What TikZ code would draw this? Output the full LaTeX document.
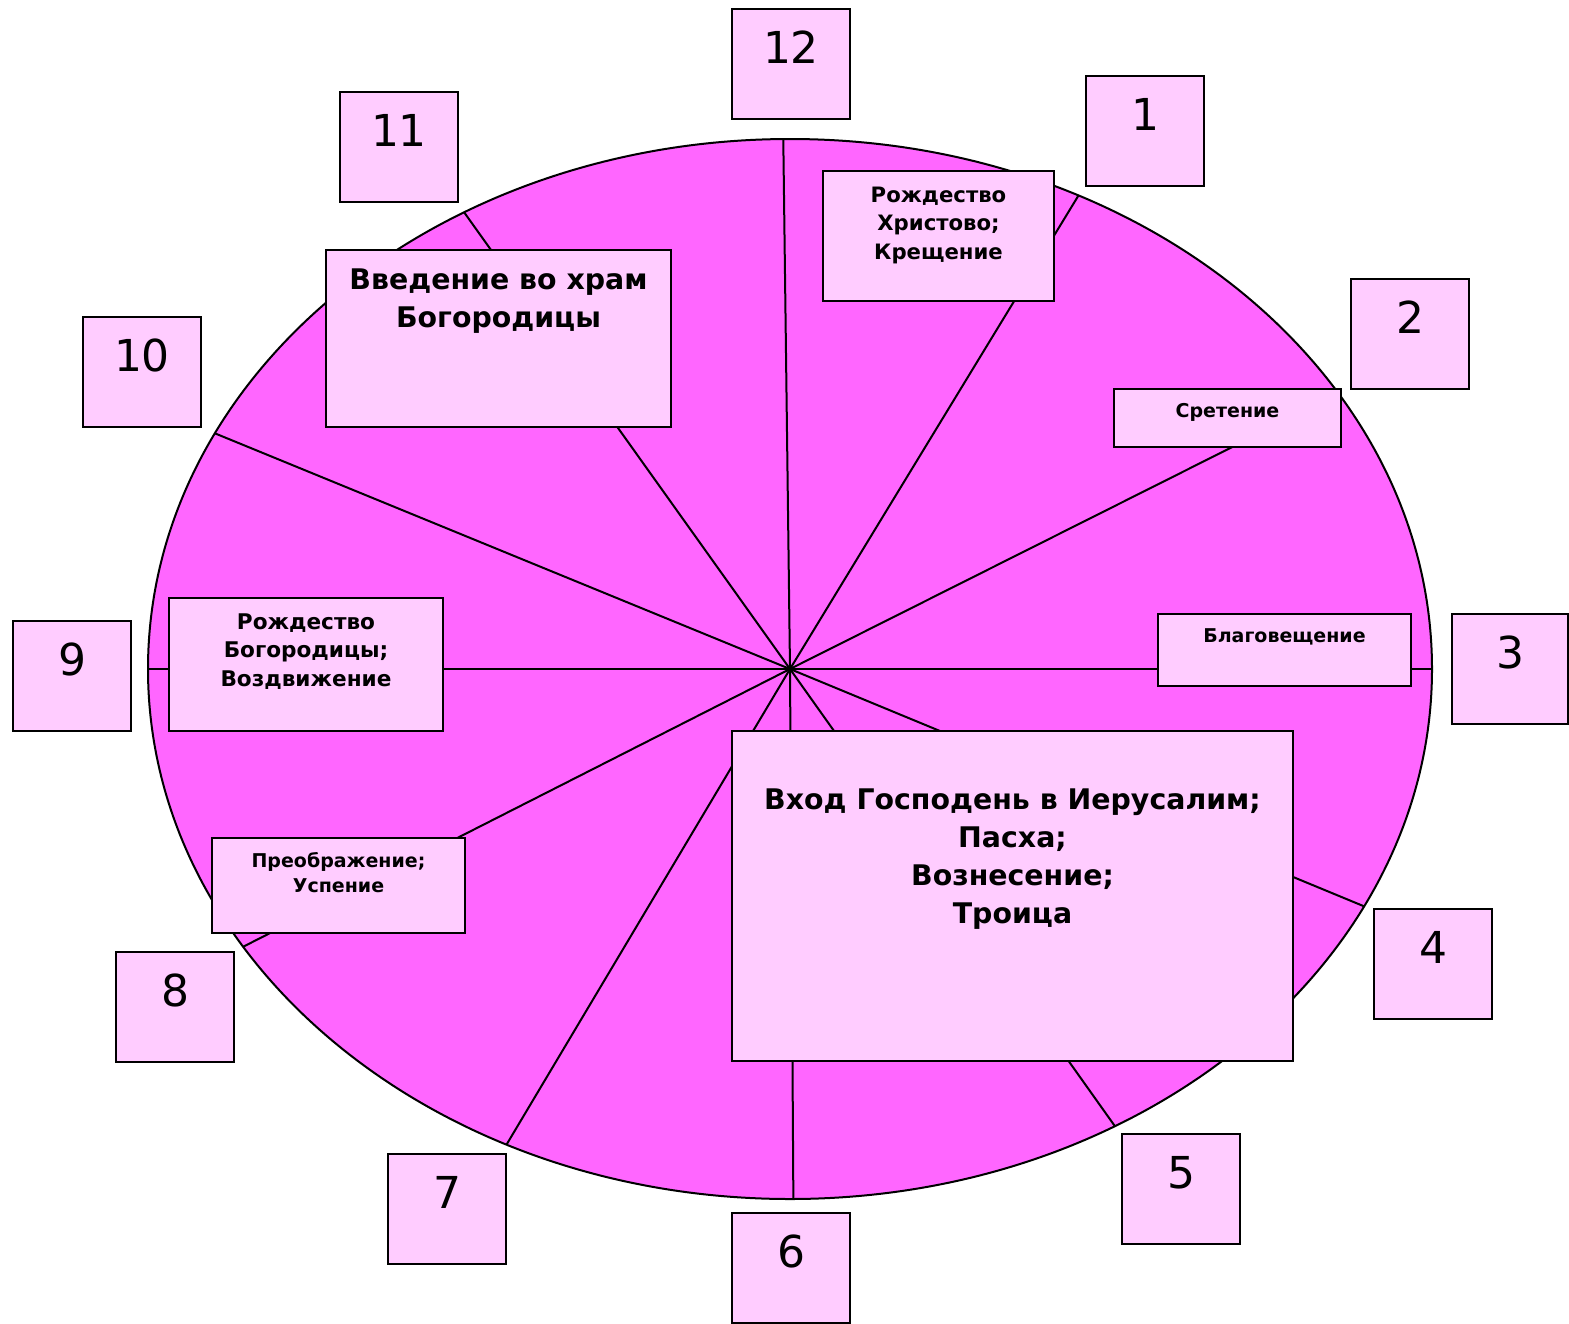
\documentclass[tikz,border=0pt]{standalone}
\usepackage{fontspec}
\setmainfont{DejaVu Sans}
\usepackage{tikz}
\usetikzlibrary{positioning}
\definecolor{ovale}{HTML}{FF66FF}
\definecolor{boite}{HTML}{FFCCFF}

\begin{document}
\begin{tikzpicture}[x=0.5pt,y=-0.5pt,
    numbox/.style={draw=black, line width=1pt, fill=boite, anchor=north west, inner sep=0pt,
      minimum width=59pt, text height=27pt, text depth=28pt, font=\fontsize{22}{26}\selectfont},
    fete/.style={draw=black, line width=1pt, fill=boite, anchor=north west, inner sep=0pt,
      align=center, font=\bfseries}]
        \useasboundingbox (0,0) rectangle (1569,1323);
        % Cercle de l'annee
        \coordinate (ctr) at (790,669);
        \draw[line width=1pt, fill=ovale] (ctr) ellipse [x radius=642, y radius=530];
        \foreach \a in {-90.6,-63.3,-31.3,0,26.6,59.6,89.7,116.2,148.4,180,206.4,239.5}
            \draw[line width=1pt] (ctr) -- ++(\a:642 and 530);

        % Mois
        \node[numbox] (m12) at (731,8) {12};
        \node[numbox] (m1) at (1085,75) {1};
        \node[numbox] (m2) at (1350,278) {2};
        \node[numbox, minimum width=58pt] (m3) at (1451,613) {3};
        \node[numbox] (m4) at (1373,908) {4};
        \node[numbox] (m5) at (1121,1133) {5};
        \node[numbox] (m6) at (731,1212) {6};
        \node[numbox] (m7) at (387,1153) {7};
        \node[numbox] (m8) at (115,951) {8};
        \node[numbox] (m9) at (12,620) {9};
        \node[numbox] (m10) at (82,316) {10};
        \node[numbox] (m11) at (339,91) {11};

        % Fetes
        \node[fete, minimum width=115.5pt, text height=44pt, text depth=21pt,
            font=\bfseries\fontsize{10.6}{14.25}\selectfont] (rozhd) at (822,170)
            {Рождество\\Христово;\\Крещение};
        \node[fete, minimum width=113.5pt, text height=14pt, text depth=15pt,
            font=\bfseries\fontsize{9.5}{12}\selectfont] (sret) at (1113,388) {Сретение};
        \node[fete, minimum width=126.5pt, text height=14pt, text depth=22pt,
            font=\bfseries\fontsize{9.5}{12}\selectfont] (blag) at (1157,613) {Благовещение};
        \node[fete, minimum width=280.5pt, text height=96pt, text depth=69pt,
            font=\bfseries\fontsize{14.2}{19}\selectfont] (pasha) at (731,730)
            {Вход Господень в Иерусалим;\\Пасха;\\Вознесение;\\Троица};
        \node[fete, minimum width=126.5pt, text height=27pt, text depth=20.5pt,
            font=\bfseries\fontsize{9.5}{12.5}\selectfont] (preobr) at (211,837)
            {Преображение;\\Успение};
        \node[fete, minimum width=137pt, text height=44pt, text depth=22.5pt,
            font=\bfseries\fontsize{10.8}{14.25}\selectfont] (rbog) at (168,597)
            {Рождество\\Богородицы;\\Воздвижение};
        \node[fete, minimum width=172.5pt, text height=38.5pt, text depth=50pt,
            font=\bfseries\fontsize{14.2}{19}\selectfont] (vved) at (325,249)
            {Введение во храм\\Богородицы};
\end{tikzpicture}
\end{document}
